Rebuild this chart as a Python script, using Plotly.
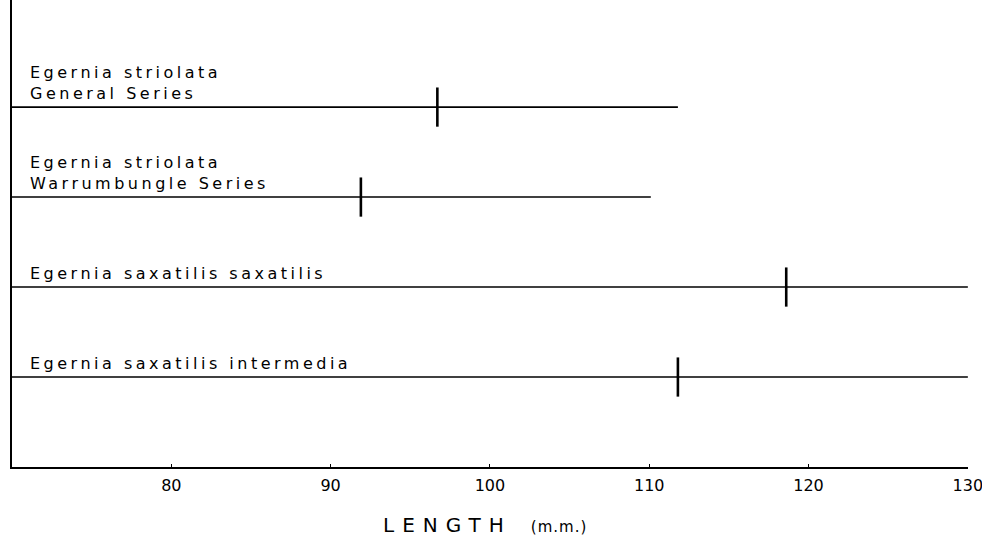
import plotly.graph_objects as go

# ---- data ----
label_line1 = ["Egernia striolata", "Egernia striolata",
               "Egernia saxatilis saxatilis", "Egernia saxatilis intermedia"]
label_line2 = ["General Series", "Warrumbungle Series", "", ""]
range_start = [70, 70, 70, 70]
range_end = [111.8, 110.1, 130, 130]
means = [96.7, 91.9, 118.6, 111.8]
tick_vals = [80, 90, 100, 110, 120, 130]
tick_text = ["80", "90", "100", "110", "120", "130"]
x_title = "LENGTH"
x_unit = "(m.m.)"

FONT = "DejaVu Sans"
names = [(a + " " + b).strip() for a, b in zip(label_line1, label_line2)]
cat_order = list(reversed(names))  # first row on top

fig = go.Figure()
for i, name in enumerate(names):
    fig.add_trace(go.Scatter(
        x=[range_start[i], range_end[i]], y=[name, name], mode="lines",
        line=dict(color="black", width=1.6), showlegend=False, hoverinfo="skip"))
    fig.add_trace(go.Scatter(
        x=[means[i]], y=[name], mode="markers",
        marker=dict(symbol="line-ns", size=28, color="black",
                    line=dict(color="black", width=2.6)),
        showlegend=False, hoverinfo="skip"))

annotations = []
for i, name in enumerate(names):
    sp = '<span style="letter-spacing:3.5px">{}</span>'
    txt = sp.format(label_line1[i])
    if label_line2[i]:
        txt += "<br>" + sp.format(label_line2[i])
    annotations.append(dict(
        x=range_start[i], y=cat_order.index(name), xref="x", yref="y",
        text=txt, showarrow=False, xanchor="left", yanchor="bottom",
        align="left", xshift=16, yshift=2,
        font=dict(family=FONT, size=16, color="black")))

annotations.append(dict(
    x=0.495, y=-0.124, xref="paper", yref="paper", xanchor="center", yanchor="middle",
    showarrow=False,
    text='<span style="letter-spacing:8px">' + x_title + '</span>   '
         '<span style="font-size:15px;letter-spacing:1px">' + x_unit + '</span>',
    font=dict(family=FONT, size=20, color="black")))

fig.update_layout(
    width=982, height=538,
    margin=dict(l=12, r=14, t=0, b=71),
    paper_bgcolor="white", plot_bgcolor="white",
    annotations=annotations,
    xaxis=dict(range=[70, 130.01], tickvals=tick_vals, ticktext=tick_text,
               showline=True, linecolor="black", linewidth=1.6,
               ticks="inside", ticklen=3, tickwidth=1.4, tickcolor="black",
               showgrid=False, zeroline=False, ticklabelstandoff=3,
               ticklabeloverflow="allow",
               tickfont=dict(family=FONT, size=16, color="black")),
    yaxis=dict(type="category", categoryarray=cat_order, categoryorder="array",
               range=[-1, 4.19], showline=True, linecolor="black", linewidth=2.4,
               showticklabels=False, ticks="", showgrid=False, zeroline=False),
)

fig.write_html("out.html", config={"displayModeBar": False},
               post_script="document.body.style.margin='0';document.body.style.overflow='hidden';")
